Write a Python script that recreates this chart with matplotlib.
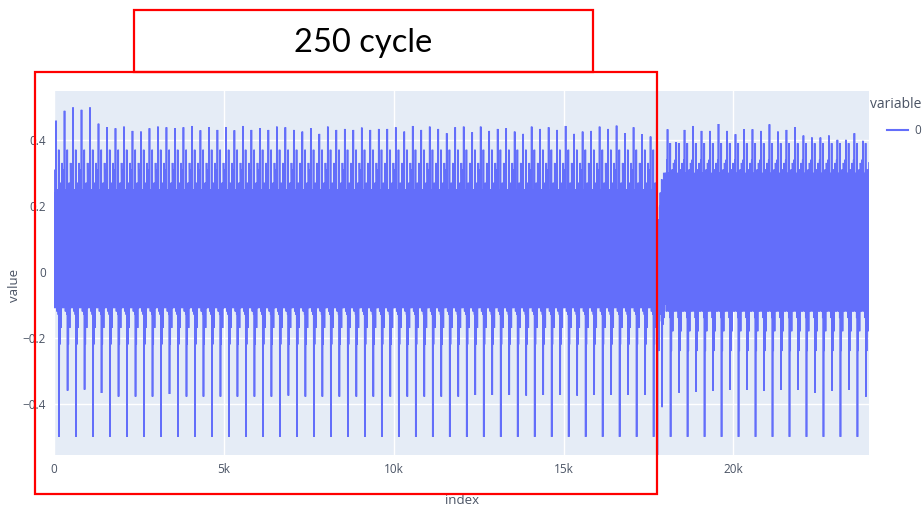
import numpy as np
import matplotlib.pyplot as plt
from matplotlib.patches import Rectangle
from matplotlib.lines import Line2D

# one 250-sample cycle at 10-sample steps; slot 6 = tall up spike, slot 15 = down spike
shape_pre = [0.21, -0.09, 0.24, -0.11, 0.31, -0.08, None, -0.10, 0.16, -0.12,
             0.25, -0.09, 0.22, -0.13, 0.37, None, 0.20, -0.22, 0.23, -0.10,
             0.27, -0.17, 0.21, -0.11, 0.33]
shape_post = [0.27, -0.10, 0.30, -0.12, 0.34, -0.09, None, -0.11, 0.22, -0.12,
              0.30, -0.10, 0.27, -0.14, 0.39, None, 0.25, -0.24, 0.29, -0.11,
              0.31, -0.18, 0.26, -0.12, 0.33]
# cycle where the two recordings are joined
junction = [0.62, -0.62, 0.08, -0.20, 0.16, -0.24, 0.14, -0.15, 0.20, -0.13,
            0.24, -0.12, 0.22, -0.10, 0.28, -0.41, 0.20, -0.16, 0.26, -0.12,
            0.30, -0.14, 0.24, -0.10, 0.30]

up_pre = [0.458, 0.488, 0.498, 0.491, 0.498, 0.449, 0.438, 0.435, 0.440, 0.427,
          0.425, 0.435, 0.440, 0.438, 0.435, 0.438, 0.442, 0.429, 0.438, 0.430,
          0.438, 0.429, 0.442, 0.430, 0.435,
          0.430, 0.440, 0.438, 0.430, 0.425, 0.435, 0.418, 0.440, 0.430, 0.433,
          0.430, 0.437, 0.430, 0.433, 0.433, 0.438, 0.425, 0.442, 0.430, 0.440,
          0.433, 0.420, 0.438, 0.440,
          0.423, 0.440, 0.427, 0.433, 0.435, 0.425, 0.418, 0.440, 0.433, 0.438,
          0.430, 0.442, 0.418, 0.425, 0.427, 0.440, 0.433, 0.443, 0.420, 0.438,
          0.417, 0.410]
up_post = [0.432, 0.393, 0.430, 0.442, 0.427, 0.427, 0.448, 0.427, 0.417, 0.432,
           0.432, 0.427, 0.447, 0.425, 0.430, 0.438, 0.413, 0.407, 0.407, 0.413,
           0.400, 0.400, 0.420, 0.397]

down_pre = [-0.50, -0.360, -0.50, -0.357, -0.50, -0.367, -0.50, -0.378, -0.50, -0.378,
            -0.50, -0.378, -0.50, -0.370, -0.50, -0.378, -0.50, -0.378, -0.50, -0.378,
            -0.50, -0.378, -0.50, -0.378, -0.50, -0.378, -0.50, -0.375, -0.50, -0.378,
            -0.50, -0.378, -0.50, -0.378, -0.50, -0.378, -0.50, -0.378, -0.50, -0.378,
            -0.50, -0.378, -0.50, -0.378, -0.50, -0.378, -0.50, -0.378, -0.50, -0.373,
            -0.50, -0.373, -0.50, -0.373, -0.50, -0.375, -0.50, -0.373, -0.50, -0.373,
            -0.50, -0.375, -0.50, -0.373, -0.50, -0.373, -0.50, -0.373, -0.50, -0.373,
            -0.50]
down_post = [-0.50, -0.366, -0.50, -0.363, -0.50, -0.360, -0.50, -0.357, -0.50, -0.357,
             -0.50, -0.360, -0.50, -0.357, -0.50, -0.357, -0.50, -0.366, -0.50, -0.360,
             -0.50, -0.357, -0.50, -0.378]

x_ticks = [0, 5000, 10000, 15000, 20000]
x_labels = ['0', '5k', '10k', '15k', '20k']
y_ticks = [-0.4, -0.2, 0, 0.2, 0.4]
y_labels = ['\u22120.4', '\u22120.2', '0', '0.2', '0.4']

# assemble the series cycle by cycle
values = []
for u, d in zip(up_pre, down_pre):
    c = list(shape_pre)
    c[6], c[15] = u, d
    values += c
values += junction
for u, d in zip(up_post, down_post):
    c = list(shape_post)
    c[6], c[15] = u, d
    values += c
values = np.array(values)
index = np.arange(len(values)) * 10

W, H = 923, 505
fig = plt.figure(figsize=(W / 100, H / 100), dpi=100)
fig.patch.set_facecolor('white')
ax = fig.add_axes([54 / W, 1 - 455 / H, (869 - 54) / W, (455 - 91) / H])
ax.set_facecolor('#E5ECF6')
ax.plot(index, values, color='#636EFA', lw=1.2, solid_joinstyle='miter')
ax.set_xlim(0, index[-1])
ax.set_ylim(-0.555, 0.548)
for s in ax.spines.values():
    s.set_visible(False)
ax.set_xticks(x_ticks, x_labels)
ax.set_yticks(y_ticks, y_labels)
ax.tick_params(length=0, labelsize=8.5, colors='#4a5364', pad=6)
for lab in ax.get_xticklabels() + ax.get_yticklabels():
    lab.set_family('Open Sans')
ax.grid(True, color='white', lw=1)
ax.set_axisbelow(True)

fig.text(15 / W, 1 - 285 / H, 'value', rotation=90, ha='center', va='center',
         fontsize=9.5, color='#4a5364', family='Open Sans')
fig.text(462 / W, 1 - 500 / H, 'index', ha='center', va='center',
         fontsize=9.5, color='#4a5364', family='Open Sans')

# legend drawn by hand (cut off by the screenshot edge)
fig.text(870 / W, 1 - 105 / H, 'variable', ha='left', va='center',
         fontsize=10, color='#4a5364', family='Open Sans')
fig.add_artist(Line2D([887 / W, 908 / W], [1 - 130 / H, 1 - 130 / H],
                      color='#636EFA', lw=1.5, transform=fig.transFigure))
fig.text(914 / W, 1 - 130 / H, '0', ha='left', va='center',
         fontsize=8.5, color='#4a5364', family='Open Sans')

# red annotation boxes
def box(x0, y0, x1, y1, fill=False):
    fig.add_artist(Rectangle((x0 / W, 1 - y1 / H), (x1 - x0) / W, (y1 - y0) / H,
                             transform=fig.transFigure, fill=fill, facecolor='white',
                             edgecolor='#FF0000', lw=1.6, zorder=10))

box(134, 10, 593, 72, fill=True)
box(35, 72, 657, 494)
fig.text(363 / W, 1 - 43 / H, '250 cycle', ha='center', va='center',
         fontsize=23.5, color='black', family='Lato', zorder=11)

fig.savefig('out.png', dpi=100)
